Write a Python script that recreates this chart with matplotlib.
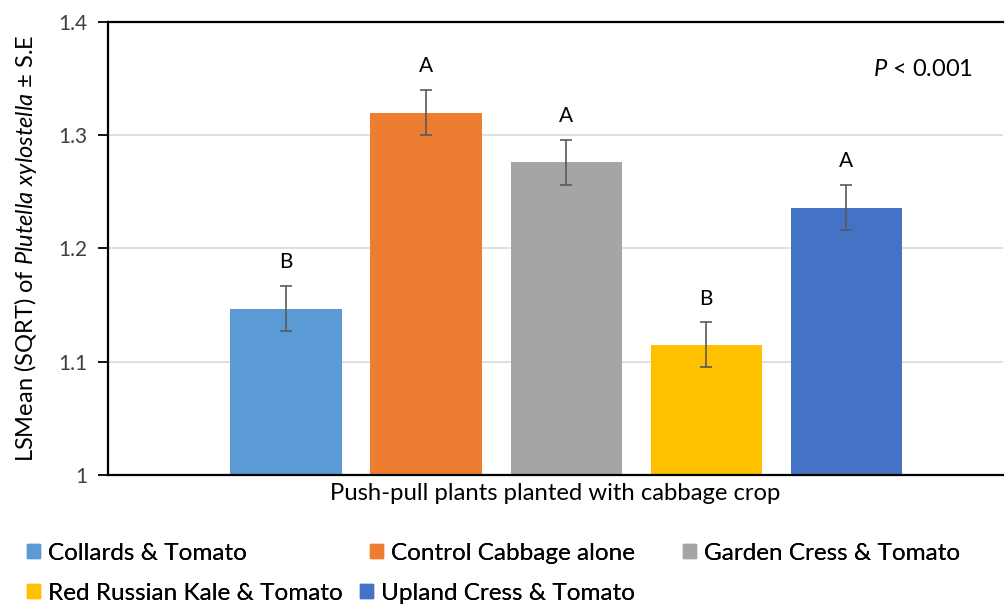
import matplotlib.pyplot as plt
from matplotlib.patches import Patch

plt.rcParams['font.family'] = ['Lato', 'DejaVu Sans']
plt.rcParams['mathtext.fontset'] = 'custom'
plt.rcParams['mathtext.it'] = 'Lato:italic'
plt.rcParams['mathtext.rm'] = 'Lato'

# data
treatments = ['Collards & Tomato', 'Control Cabbage alone', 'Garden Cress & Tomato',
              'Red Russian Kale & Tomato', 'Upland Cress & Tomato']
lsmeans = [1.147, 1.320, 1.276, 1.115, 1.236]
se = [0.020, 0.020, 0.020, 0.020, 0.020]
letters = ['B', 'A', 'A', 'B', 'A']
colors = ['#5B9BD5', '#ED7D31', '#A5A5A5', '#FFC000', '#4472C4']

W, H = 1005, 604
fig = plt.figure(figsize=(W / 100, H / 100), dpi=100)
ax = fig.add_axes([0.1075, 0.2136, 0.8905, 0.75])

x = list(range(len(treatments)))
ax.bar(x, lsmeans, width=0.793, color=colors, zorder=2)
ax.errorbar(x, lsmeans, yerr=se, fmt='none', ecolor='#595959', elinewidth=1.2,
            capsize=4, capthick=1.2, zorder=3)

for xi, m, s, lab in zip(x, lsmeans, se, letters):
    ax.text(xi, m + s + 0.012, lab, ha='center', va='bottom', fontsize=15)

ax.text(4.55, 1.358, '$P$ < 0.001', ha='center', va='center', fontsize=17)

ax.set_xlim(-1.271, 5.121)
ax.set_ylim(1.0, 1.4)
ax.set_yticks([1.0, 1.1, 1.2, 1.3, 1.4])
ax.set_yticklabels(['1', '1.1', '1.2', '1.3', '1.4'], fontsize=15, color='#404040')
ax.set_xticks([])
ax.yaxis.grid(True, color='#D9D9D9', linewidth=1.2, zorder=0)
ax.tick_params(axis='y', direction='out', length=7, width=1.3, color='black', pad=8)
for side in ['left', 'bottom', 'top']:
    ax.spines[side].set_linewidth(1.6)
    ax.spines[side].set_color('black')
ax.spines['right'].set_visible(False)

ax.set_xlabel('Push-pull plants planted with cabbage crop', fontsize=17.2, labelpad=6)
ax.set_ylabel('LSMean (SQRT) of $Plutella\\ xylostella$ ± S.E', fontsize=17, labelpad=14)

# legend entries laid out like the Excel legend (two flowing rows)
leg_pos = [(27, 553), (370, 553), (683, 553), (27, 593), (360, 593)]
for name, c, (px, py) in zip(treatments, colors, leg_pos):
    leg = fig.legend([Patch(color=c)], [name], loc='center left',
                     bbox_to_anchor=(px / W, 1 - py / H), frameon=False, fontsize=17.5,
                     handlelength=0.55, handleheight=0.55, handletextpad=0.3,
                     borderaxespad=0, borderpad=0)
    fig.add_artist(leg)

fig.savefig('out.png', dpi=100)
